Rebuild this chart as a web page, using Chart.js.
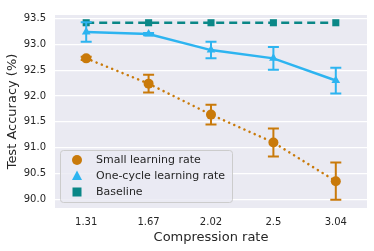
<!DOCTYPE html>
<html>
<head>
<meta charset="utf-8">
<script src="https://cdn.jsdelivr.net/npm/chart.js@4"></script>
<style>
  html, body { margin: 0; padding: 0; background: #fff; }
  #box { width: 374px; height: 251px; }
</style>
</head>
<body>
<div id="box"><canvas id="grafico" width="374" height="251"></canvas></div>
<script>
//--------------------------------------------------
// DATA
//--------------------------------------------------

const categorias = ['1.31', '1.67', '2.02', '2.5', '3.04'];

const smallLR    = [92.73, 92.24, 91.64, 91.10, 90.35];
const smallErr   = [0.03, 0.17, 0.19, 0.27, 0.36];

const oneCycle   = [93.24, 93.20, 92.89, 92.73, 92.30];
const oneErr     = [0.19, 0.02, 0.16, 0.22, 0.25];

const baseline   = [93.42, 93.42, 93.42, 93.42, 93.42];

const yTicks     = [90.0, 90.5, 91.0, 91.5, 92.0, 92.5, 93.0, 93.5];

//--------------------------------------------------
// COLORS
//--------------------------------------------------

const corSmall = '#C97A0A';
const corOne   = '#2DB4F0';
const corBase  = '#0A8787';
const corTexto = '#262626';

//--------------------------------------------------
// PLUGINS
//--------------------------------------------------

const fundo = {
  id: 'fundo',
  beforeDraw(chart) {
    const { ctx, chartArea: { left, top, width, height } } = chart;
    ctx.save();
    ctx.fillStyle = '#EAEAF2';
    ctx.fillRect(left, top, width, height);
    ctx.restore();
  }
};

const barrasErro = {
  id: 'barrasErro',
  afterDatasetsDraw(chart) {
    const { ctx, scales: { y } } = chart;
    chart.data.datasets.forEach((ds, i) => {
      if (!ds.erros) return;
      const meta = chart.getDatasetMeta(i);
      ctx.save();
      ctx.strokeStyle = ds.borderColor;
      ctx.lineWidth = 2;
      meta.data.forEach((pt, j) => {
        const v = ds.data[j];
        const e = ds.erros[j];
        const y1 = y.getPixelForValue(v + e);
        const y2 = y.getPixelForValue(v - e);
        ctx.beginPath();
        ctx.moveTo(pt.x, y1); ctx.lineTo(pt.x, y2);
        ctx.moveTo(pt.x - 5.5, y1); ctx.lineTo(pt.x + 5.5, y1);
        ctx.moveTo(pt.x - 5.5, y2); ctx.lineTo(pt.x + 5.5, y2);
        ctx.stroke();
      });
      ctx.restore();
    });
  }
};

const legenda = {
  id: 'legenda',
  afterDraw(chart) {
    const { ctx, chartArea: { left, bottom } } = chart;
    const x0 = left + 5, y0 = bottom - 58, w = 172, h = 52;
    ctx.save();
    ctx.fillStyle = 'rgba(234,234,242,0.8)';
    ctx.strokeStyle = '#CCCCCC';
    ctx.lineWidth = 1;
    ctx.beginPath();
    ctx.roundRect(x0 + 0.5, y0 + 0.5, w, h, 3);
    ctx.fill();
    ctx.stroke();

    ctx.font = '11px "DejaVu Sans", sans-serif';
    ctx.textBaseline = 'middle';
    chart.data.datasets.forEach((ds, i) => {
      const cy = y0 + 10 + i * 16;
      const cx = x0 + 17;
      ctx.fillStyle = ds.borderColor;
      ctx.beginPath();
      if (ds.pointStyle === 'circle') {
        ctx.arc(cx, cy, 5, 0, Math.PI * 2);
      } else if (ds.pointStyle === 'triangle') {
        ctx.moveTo(cx, cy - 5.5); ctx.lineTo(cx + 5, cy + 4); ctx.lineTo(cx - 5, cy + 4);
        ctx.closePath();
      } else {
        ctx.rect(cx - 4.5, cy - 4.5, 9, 9);
      }
      ctx.fill();
      ctx.fillStyle = corTexto;
      ctx.fillText(ds.label, x0 + 36, cy + 0.5);
    });
    ctx.restore();
  }
};

//--------------------------------------------------
// CHART
//--------------------------------------------------

new Chart(document.getElementById('grafico'), {
  type: 'line',
  data: {
    labels: categorias,
    datasets: [
      {
        label: 'Small learning rate',
        data: smallLR,
        erros: smallErr,
        borderColor: corSmall,
        backgroundColor: corSmall,
        borderWidth: 2.5,
        borderDash: [0.1, 5.5],
        borderCapStyle: 'round',
        pointStyle: 'circle',
        pointRadius: 5,
        pointBorderWidth: 0
      },
      {
        label: 'One-cycle learning rate',
        data: oneCycle,
        erros: oneErr,
        borderColor: corOne,
        backgroundColor: corOne,
        borderWidth: 2.5,
        pointStyle: 'triangle',
        pointRadius: 5,
        pointBorderWidth: 0
      },
      {
        label: 'Baseline',
        data: baseline,
        borderColor: corBase,
        backgroundColor: corBase,
        borderWidth: 2.5,
        borderDash: [8, 5],
        pointStyle: 'rect',
        pointRadius: 5,
        pointBorderWidth: 0
      }
    ]
  },
  options: {
    responsive: false,
    animation: false,
    layout: { padding: { top: 7, right: 7, left: 0, bottom: 0 } },
    plugins: {
      legend: { display: false },
      tooltip: { enabled: false }
    },
    scales: {
      x: {
        offset: true,
        grid: { display: false, drawTicks: false },
        border: { display: false },
        ticks: { color: corTexto, font: { family: 'DejaVu Sans', size: 10 }, padding: 8 },
        title: {
          display: true,
          text: 'Compression rate',
          color: corTexto,
          font: { family: 'DejaVu Sans', size: 13 },
          padding: { top: 1, bottom: 6 }
        },
        afterFit(scale) { scale.height = 43; }
      },
      y: {
        min: 89.83,
        max: 93.57,
        afterBuildTicks(scale) { scale.ticks = yTicks.map(v => ({ value: v })); },
        grid: { color: '#FFFFFF', lineWidth: 1.2, drawTicks: false },
        border: { display: false },
        ticks: {
          color: corTexto,
          font: { family: 'DejaVu Sans', size: 10 },
          padding: 9,
          callback: v => v.toFixed(1)
        },
        title: {
          display: true,
          text: 'Test Accuracy (%)',
          color: corTexto,
          font: { family: 'DejaVu Sans', size: 13 },
          padding: { top: 5, bottom: 0 }
        },
        afterFit(scale) { scale.width = 55; }
      }
    }
  },
  plugins: [fundo, barrasErro, legenda]
});
</script>
</body>
</html>
